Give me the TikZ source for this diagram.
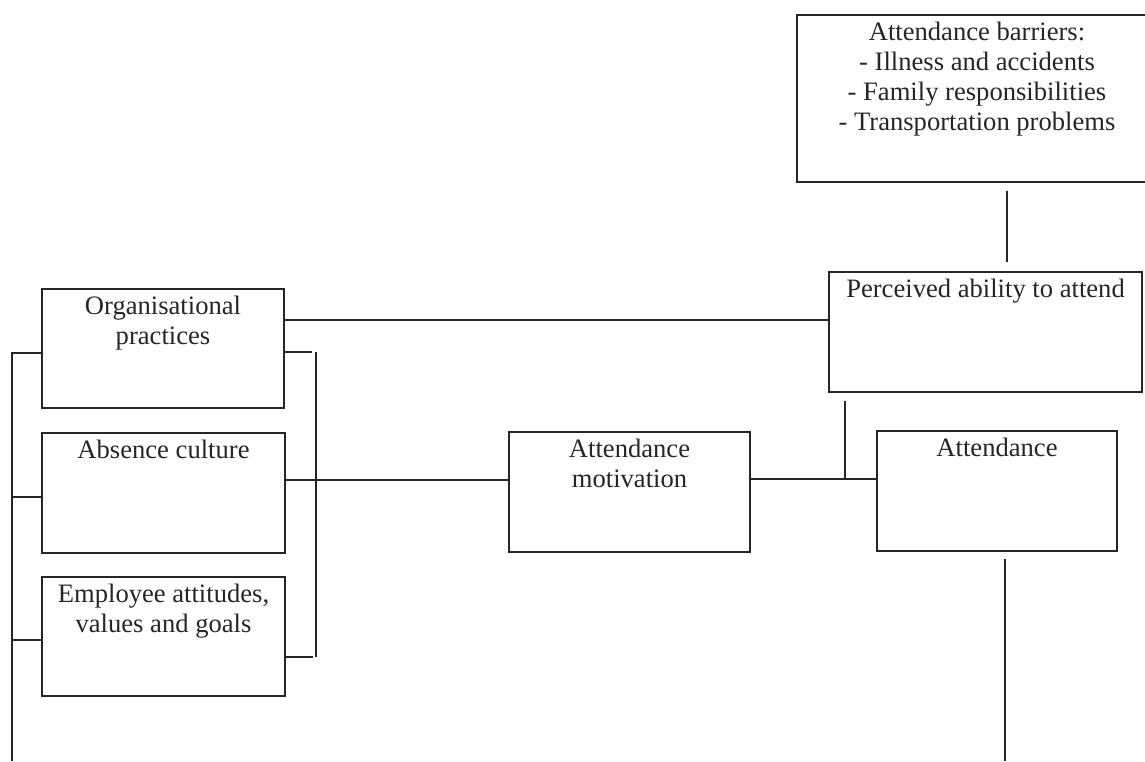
\documentclass[tikz,border=0pt]{standalone}
\usepackage{fontspec}
\setmainfont{Liberation Serif}
\begin{document}
\begin{tikzpicture}[x=0.5pt,y=-0.5pt,
  box/.style={draw=black!85, line width=1pt, inner sep=0pt, minimum width=#1},
  lbl/.style={anchor=north, align=center, inner sep=4pt,
    font=\fontsize{13.3}{15}\selectfont, text=black!85},
  conn/.style={draw=black!85, line width=1pt}]
\clip (0,0) rectangle (1145,761);
\fill[white] (0,0) rectangle (1145,761);

% boxes
\node[box=121pt, minimum height=59.5pt, label={[lbl]north:{Organisational\\practices}}] (org) at (163,348.5) {};
\node[box=121.5pt, minimum height=60pt, label={[lbl]north:{Absence culture}}] (abs) at (163.5,493) {};
\node[box=121.5pt, minimum height=59.5pt, label={[lbl]north:{Employee attitudes,\\values and goals}}] (emp) at (163.5,636.5) {};
\node[box=120.5pt, minimum height=60pt, label={[lbl]north:{Attendance\\motivation}}] (mot) at (629.5,492) {};
\node[box=156.5pt, minimum height=60pt, label={[lbl]north:{Perceived ability to attend}}] (per) at (985.5,332) {};
\node[box=120pt, minimum height=60pt, label={[lbl]north:{Attendance}}] (att) at (997,491) {};
\node[box=180pt, minimum height=83.5pt, label={[lbl]north:{Attendance barriers:\\- Illness and accidents\\- Family responsibilities\\- Transportation problems}}] (bar) at (977,98.5) {};

% left bus
\coordinate (lb) at (12,761);
\coordinate (ow) at ([yshift=-2.25pt]org.west);
\coordinate (aw) at ([yshift=-2pt]abs.west);
\coordinate (ew) at ([yshift=-1.75pt]emp.west);
\draw[conn] (lb) |- (ow);
\draw[conn] (aw) -- (aw -| lb);
\draw[conn] (ew) -- (ew -| lb);

% right bracket
\coordinate (bt) at (316,352);
\coordinate (bb) at (316,657);
\draw[conn] (bt) -- (bb);
\draw[conn] (org.east |- bt) -- ++(27,0);
\draw[conn] (emp.east |- bb) -- ++(27,0);

% horizontal links
\coordinate (or) at ([yshift=14.25pt]org.east);
\draw[conn] (or) -- (or -| per.west);
\coordinate (ar) at ([yshift=6.5pt]abs.east);
\draw[conn] (ar) -- (ar -| mot.west);
\coordinate (mr) at ([yshift=6.5pt]mot.east);
\draw[conn] (mr) -- (mr -| att.west);

% perceived to junction
\coordinate (pb) at ([xshift=8.5pt,yshift=-4pt]per.south west);
\draw[conn] (pb) -- (pb |- mr);

% barriers to perceived
\coordinate (bs) at ([xshift=15pt,yshift=-4pt]bar.south);
\path (bs |- per.north) coordinate (pn);
\draw[conn] (bs) -- ([yshift=4.5pt]pn);

% attendance down
\coordinate (ab) at ([xshift=4pt,yshift=-3.5pt]att.south);
\coordinate (ae) at (ab |- lb);
\draw[conn] (ab) -- (ae);
\end{tikzpicture}
\end{document}
